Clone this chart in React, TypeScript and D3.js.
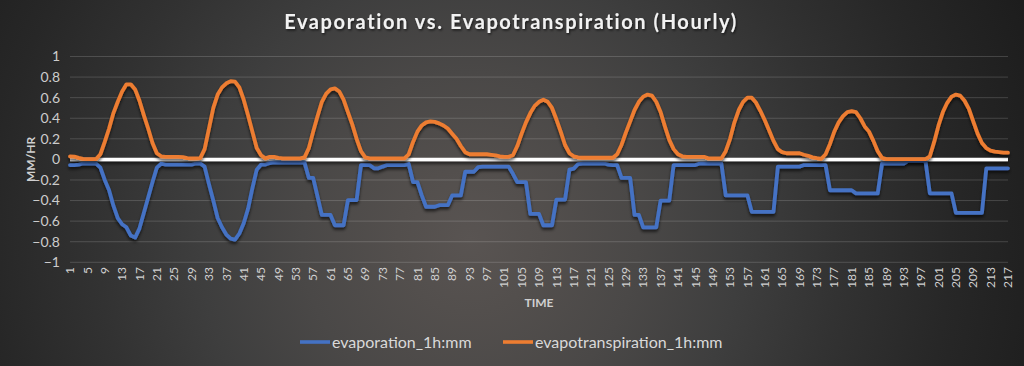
import React from "react";
import * as d3 from "d3";

const title = "Evaporation vs. Evapotranspiration (Hourly)";
const seriesNames = ["evaporation_1h:mm", "evapotranspiration_1h:mm"];
const yTicks = [-1, -0.8, -0.6, -0.4, -0.2, 0, 0.2, 0.4, 0.6, 0.8, 1];

const evapotranspiration = [
  0.03, 0.027, 0.015, 0.005, 0.003, 0.003, 0.004, 0.05, 0.17, 0.3,
  0.45, 0.56, 0.66, 0.73, 0.73, 0.68, 0.57, 0.43, 0.3, 0.16,
  0.06, 0.03, 0.025, 0.025, 0.025, 0.025, 0.022, 0.012, 0.01, 0.01,
  0.012, 0.1, 0.3, 0.5, 0.63, 0.7, 0.74, 0.76, 0.755, 0.7,
  0.58, 0.43, 0.27, 0.11, 0.04, 0.01, 0.025, 0.025, 0.015, 0.01,
  0.01, 0.01, 0.01, 0.01, 0.02, 0.11, 0.27, 0.42, 0.56, 0.64,
  0.68, 0.69, 0.66, 0.58, 0.46, 0.34, 0.2, 0.08, 0.02, 0.01,
  0.01, 0.01, 0.01, 0.01, 0.01, 0.01, 0.01, 0.01, 0.05, 0.17,
  0.27, 0.33, 0.36, 0.37, 0.365, 0.35, 0.33, 0.3, 0.25, 0.2,
  0.13, 0.07, 0.05, 0.05, 0.05, 0.05, 0.05, 0.045, 0.04, 0.03,
  0.025, 0.025, 0.04, 0.13, 0.25, 0.36, 0.45, 0.52, 0.56, 0.58,
  0.56, 0.5, 0.39, 0.27, 0.14, 0.06, 0.03, 0.02, 0.016, 0.016,
  0.016, 0.016, 0.016, 0.016, 0.016, 0.016, 0.05, 0.14, 0.26, 0.37,
  0.48, 0.56, 0.61, 0.63, 0.62, 0.56, 0.46, 0.32, 0.19, 0.1,
  0.05, 0.03, 0.025, 0.025, 0.025, 0.025, 0.025, 0.01, 0.01, 0.01,
  0.01, 0.08, 0.2, 0.36, 0.48, 0.56, 0.6, 0.6, 0.55, 0.47,
  0.38, 0.28, 0.18, 0.1, 0.07, 0.06, 0.06, 0.06, 0.06, 0.045,
  0.035, 0.02, 0.012, 0.006, 0.05, 0.15, 0.27, 0.36, 0.42, 0.46,
  0.47, 0.46, 0.4, 0.32, 0.27, 0.18, 0.08, 0.015, 0.003, 0.003,
  0.003, 0.003, 0.003, 0.003, 0.003, 0.003, 0.003, 0.003, 0.03, 0.17,
  0.33, 0.46, 0.55, 0.61, 0.63, 0.62, 0.57, 0.49, 0.37, 0.25,
  0.16, 0.11, 0.085, 0.075, 0.07, 0.065, 0.065,
];

const evaporation = [
  -0.055, -0.055, -0.05, -0.04, -0.04, -0.04, -0.04, -0.08, -0.2, -0.3,
  -0.45, -0.57, -0.63, -0.66, -0.74, -0.76, -0.67, -0.52, -0.37, -0.22,
  -0.08, -0.04, -0.05, -0.05, -0.05, -0.05, -0.05, -0.05, -0.05, -0.04,
  -0.04, -0.07, -0.24, -0.4, -0.57, -0.66, -0.73, -0.77, -0.78, -0.72,
  -0.62, -0.48, -0.28, -0.1, -0.05, -0.05, -0.035, -0.03, -0.03, -0.03,
  -0.03, -0.03, -0.03, -0.03, -0.03, -0.18, -0.18, -0.36, -0.54, -0.54,
  -0.54, -0.64, -0.64, -0.64, -0.395, -0.395, -0.395, -0.055, -0.055, -0.055,
  -0.087, -0.087, -0.07, -0.055, -0.055, -0.055, -0.055, -0.055, -0.045, -0.22,
  -0.22, -0.35, -0.46, -0.46, -0.46, -0.445, -0.445, -0.445, -0.35, -0.35,
  -0.35, -0.12, -0.12, -0.12, -0.075, -0.07, -0.07, -0.07, -0.07, -0.07,
  -0.07, -0.07, -0.14, -0.22, -0.22, -0.22, -0.53, -0.53, -0.53, -0.64,
  -0.64, -0.64, -0.39, -0.39, -0.39, -0.1, -0.09, -0.045, -0.04, -0.04,
  -0.04, -0.04, -0.04, -0.04, -0.05, -0.055, -0.055, -0.18, -0.18, -0.18,
  -0.54, -0.54, -0.66, -0.66, -0.66, -0.66, -0.4, -0.4, -0.4, -0.055,
  -0.055, -0.055, -0.055, -0.055, -0.055, -0.04, -0.04, -0.04, -0.04, -0.04,
  -0.04, -0.35, -0.35, -0.35, -0.35, -0.35, -0.35, -0.51, -0.51, -0.51,
  -0.51, -0.51, -0.51, -0.07, -0.07, -0.07, -0.07, -0.07, -0.07, -0.055,
  -0.055, -0.055, -0.055, -0.055, -0.055, -0.3, -0.3, -0.3, -0.3, -0.3,
  -0.3, -0.33, -0.33, -0.33, -0.33, -0.33, -0.33, -0.04, -0.04, -0.04,
  -0.04, -0.04, -0.04, -0.015, -0.015, -0.015, -0.015, -0.015, -0.33, -0.33,
  -0.33, -0.33, -0.33, -0.33, -0.52, -0.52, -0.52, -0.52, -0.52, -0.52,
  -0.52, -0.087, -0.087, -0.087, -0.087, -0.087, -0.087,
];

const hours = evaporation.map((_, i) => i + 1);
const hourLabels = hours.filter((h) => (h - 1) % 4 === 0);

const W = 1024;
const H = 366;
const left = 70;
const right = 1008;
const top = 56.5;
const bottom = 262.3;
const FONT = "Lato, 'Open Sans', 'Liberation Sans', sans-serif";

export default function App() {
  const x = d3.scalePoint<number>().domain(hours).range([left, right]).padding(0);
  const y = d3.scaleLinear().domain([-1, 1]).range([bottom, top]);
  const line = d3
    .line<number>()
    .x((_, i) => x(hours[i]) as number)
    .y((d) => y(d));

  const colors = ["#4472C4", "#ED7D31"];
  const data = [evaporation, evapotranspiration];

  return (
    <svg
      width={W}
      height={H}
      style={{ position: "absolute", left: 0, top: 0, display: "block" }}
      fontFamily={FONT}
    >
      <defs>
        <radialGradient id="bg" gradientUnits="userSpaceOnUse" cx={470} cy={240} r={600}>
          <stop offset="0" stopColor="#595452" />
          <stop offset="0.12" stopColor="#534f4d" />
          <stop offset="0.28" stopColor="#4a4847" />
          <stop offset="0.45" stopColor="#3e3e3e" />
          <stop offset="0.62" stopColor="#323232" />
          <stop offset="0.8" stopColor="#272727" />
          <stop offset="1" stopColor="#1d1d1d" />
        </radialGradient>
        <filter id="shadow" filterUnits="userSpaceOnUse" x="0" y="0" width={W} height={H}>
          <feDropShadow dx="0" dy="2.5" stdDeviation="1.5" floodColor="#000" floodOpacity="0.65" />
        </filter>
        <filter id="tshadow" filterUnits="userSpaceOnUse" x="0" y="0" width={W} height={H}>
          <feDropShadow dx="1" dy="1.5" stdDeviation="1" floodColor="#000" floodOpacity="0.6" />
        </filter>
      </defs>
      <rect width={W} height={H} fill="url(#bg)" />

      <text
        x={511}
        y={29}
        textAnchor="middle"
        fill="#f2f2f2"
        fontSize={20}
        fontWeight="bold"
        letterSpacing={1.6}
        filter="url(#tshadow)"
      >
        {title}
      </text>

      {yTicks.map((t) => (
        <g key={t}>
          <line x1={left} x2={right} y1={y(t)} y2={y(t)} stroke="#ffffff" strokeOpacity={0.16} strokeWidth={1} />
          <text x={60} y={y(t)} dy="0.35em" textAnchor="end" fill="#cccccc" fontSize={14}>
            {d3.format("")(Math.round(t * 10) / 10)}
          </text>
        </g>
      ))}

      <line x1={left} x2={right} y1={y(0)} y2={y(0)} stroke="#ffffff" strokeWidth={3.5} filter="url(#shadow)" />

      {data.map((d, k) => (
        <path
          key={k}
          d={line(d) || ""}
          fill="none"
          stroke={colors[k]}
          strokeWidth={3.8}
          strokeLinejoin="round"
          strokeLinecap="round"
          filter="url(#shadow)"
        />
      ))}

      {hourLabels.map((h) => (
        <text
          key={h}
          transform={`translate(${x(h)},267) rotate(-90)`}
          dy="0.35em"
          textAnchor="end"
          fill="#d0d0d0"
          fontSize={12}
        >
          {h}
        </text>
      ))}

      <text x={539} y={307} textAnchor="middle" fill="#d0d0d0" fontSize={12} fontWeight="bold">
        TIME
      </text>
      <text
        transform={`translate(31,${y(0)}) rotate(-90)`}
        textAnchor="middle"
        dy="0.35em"
        fill="#d0d0d0"
        fontSize={12}
        fontWeight="bold"
      >
        MM/HR
      </text>

      {seriesNames.map((n, k) => {
        const lx = k === 0 ? 300 : 503;
        return (
          <g key={n}>
            <line x1={lx} x2={lx + 30} y1={342} y2={342} stroke={colors[k]} strokeWidth={3.6} />
            <text x={lx + 32} y={342} dy="0.35em" fill="#d9d9d9" fontSize={16}>
              {n}
            </text>
          </g>
        );
      })}
    </svg>
  );
}
